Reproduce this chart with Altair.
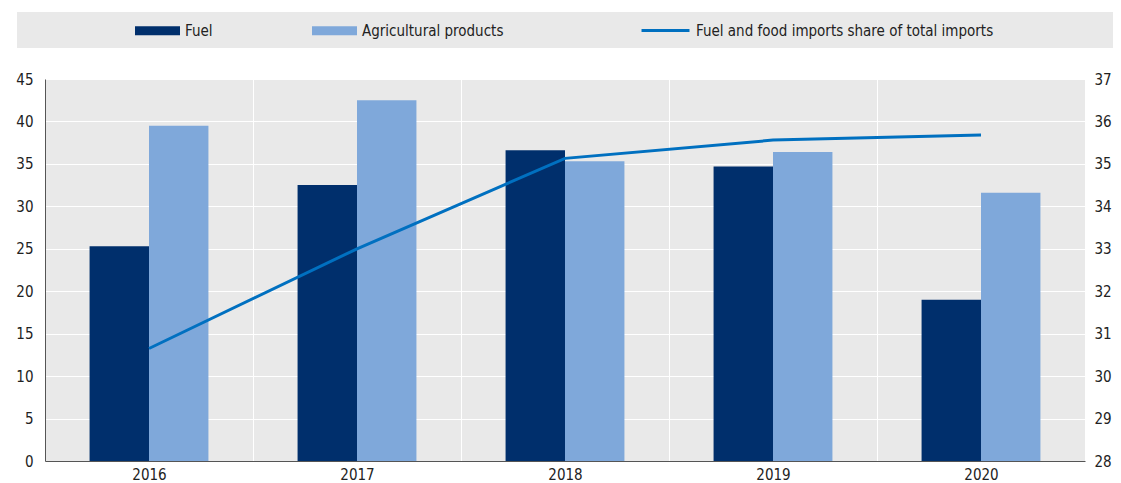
import altair as alt
import pandas as pd

years = ["2016", "2017", "2018", "2019", "2020"]
fuel = [25.3, 32.5, 36.6, 34.7, 19.0]
agri = [39.5, 42.5, 35.3, 36.4, 31.6]
share = [30.65, 33.0, 35.13, 35.56, 35.68]

series_names = ["Fuel", "Agricultural products"]
line_name = "Fuel and food imports share of total imports"
bar_colors = ["#002F6C", "#7FA8DA"]
line_color = "#0070C0"

FONT = "Liberation Sans Narrow, DejaVu Sans Condensed, Liberation Sans, Arial"

rows = []
for i, y in enumerate(years):
    rows.append({"year": y, "series": series_names[0], "value": fuel[i]})
    rows.append({"year": y, "series": series_names[1], "value": agri[i]})
bars_df = pd.DataFrame(rows)
line_df = pd.DataFrame({"year": years, "share": share, "label": [line_name] * len(years)})

W, H = 1040, 382

xenc = alt.X("year:N", title=None, sort=years,
             scale=alt.Scale(paddingInner=0, paddingOuter=0),
             axis=alt.Axis(labelAngle=0, ticks=False, tickBand="extent", grid=True,
                           gridColor="white", gridWidth=1, domainColor="#555555",
                           labelFontSize=15, labelFont=FONT, labelColor="#222222",
                           labelPadding=6))

legend_bg = alt.Chart(alt.Data(values=[{}])).mark_rect(color="#e9e9e9").encode(
    x=alt.value(-28), x2=alt.value(1068), y=alt.value(-67), y2=alt.value(-31)
)

bars = alt.Chart(bars_df).mark_bar().encode(
    x=xenc,
    xOffset=alt.XOffset("series:N", sort=series_names,
                        scale=alt.Scale(paddingInner=0, paddingOuter=0.75)),
    y=alt.Y("value:Q", title=None,
            scale=alt.Scale(domain=[0, 45], nice=False),
            axis=alt.Axis(values=list(range(0, 50, 5)), ticks=False, grid=True,
                          gridColor="white", gridWidth=1, domainColor="#555555",
                          labelFontSize=15, labelFont=FONT, labelColor="#222222",
                          labelPadding=12)),
    color=alt.Color("series:N", sort=series_names,
                    scale=alt.Scale(domain=series_names, range=bar_colors),
                    legend=alt.Legend(orient="none", legendX=90, legendY=-71,
                                      direction="horizontal", title=None,
                                      symbolType="M-1,-0.2H1V0.2H-1Z", symbolSize=2025,
                                      symbolStrokeWidth=0, symbolOpacity=1,
                                      columnPadding=99, padding=0, labelOffset=5,
                                      labelFontSize=15, labelFont=FONT,
                                      labelColor="#222222", labelLimit=400)),
)

line = alt.Chart(line_df).mark_line(strokeWidth=3).encode(
    x=alt.X("year:N", sort=years),
    y=alt.Y("share:Q", title=None,
            scale=alt.Scale(domain=[28, 37], nice=False, zero=False),
            axis=alt.Axis(orient="right", values=list(range(28, 38)), ticks=False,
                          grid=False, domain=False,
                          labelFontSize=15, labelFont=FONT, labelColor="#222222",
                          labelPadding=9)),
    stroke=alt.Stroke("label:N",
                      scale=alt.Scale(domain=[line_name], range=[line_color]),
                      legend=alt.Legend(orient="none", legendX=595, legendY=-74,
                                        title=None, symbolType="stroke",
                                        symbolSize=2300, symbolStrokeWidth=3,
                                        padding=0, labelOffset=5,
                                        labelFontSize=15, labelFont=FONT,
                                        labelColor="#222222", labelLimit=500)),
)

chart = alt.layer(legend_bg, bars, line).resolve_scale(
    y="independent", color="independent", stroke="independent"
).properties(
    width=W, height=H,
    background="white",
    autosize=alt.AutoSizeParams(type="none"),
    padding={"left": 37, "top": 71, "right": 28, "bottom": 22},
).configure_view(
    fill="#e9e9e9", strokeWidth=0
)

chart.save("out.html", embed_options={"renderer": "svg", "actions": False})
